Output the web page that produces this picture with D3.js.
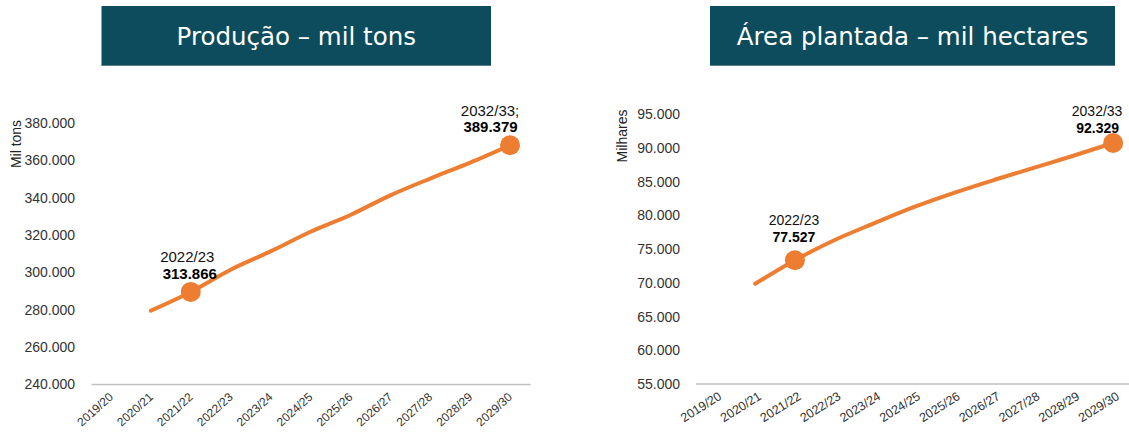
<!DOCTYPE html>
<html>
<head>
<meta charset="utf-8">
<script src="https://cdn.jsdelivr.net/npm/d3@7"></script>
<style>
  html, body { margin: 0; padding: 0; background: #fff; }
  svg { display: block; }
</style>
</head>
<body>
<svg id="chart" width="1129" height="438"></svg>
<script>
// ---- Data ----
const categories = ["2019/20","2020/21","2021/22","2022/23","2023/24","2024/25","2025/26","2026/27","2027/28","2028/29","2029/30"];

// Produção (mil tons) – first category has no value
const producao = [null, 279.3, 289.3, 301.2, 311.0, 321.5, 330.5, 341.0, 350.0, 358.5, 367.8];
const producaoTicks = [240, 260, 280, 300, 320, 340, 360, 380];

// Área plantada (mil hectares)
const area = [null, 69.8, 73.3, 76.3, 78.8, 81.2, 83.3, 85.2, 87.0, 88.8, 90.7];
const areaTicks = [55, 60, 65, 70, 75, 80, 85, 90, 95];

const titles = ["Produção – mil tons", "Área plantada – mil hectares"];
const yTitles = ["Mil tons", "Milhares"];

// highlighted points: [category index, line1, line2]
const producaoNotes = [[2, "2022/23", "313.866"], [10, "2032/33;", "389.379"]];
const areaNotes = [[2, "2022/23", "77.527"], [10, "2032/33", "92.329"]];

// ---- Drawing ----
const svg = d3.select("#chart");
const ORANGE = "#ED7D31";
const tickFmt = v => v.toFixed(3);

function panel(cfg) {
  const g = svg.append("g");

  // title banner
  g.append("rect")
    .attr("x", cfg.banner[0]).attr("y", 6)
    .attr("width", cfg.banner[1] - cfg.banner[0]).attr("height", 60)
    .attr("fill", "#0C4C5D");
  g.append("line")
    .attr("x1", cfg.banner[0]).attr("x2", cfg.banner[1])
    .attr("y1", 65.5).attr("y2", 65.5)
    .attr("stroke", "#5E7F88").attr("stroke-width", 1);
  g.append("text")
    .attr("x", (cfg.banner[0] + cfg.banner[1]) / 2).attr("y", 45)
    .attr("text-anchor", "middle")
    .attr("fill", "#fff")
    .attr("font-family", "'DejaVu Sans', Verdana, sans-serif")
    .attr("font-size", "24.5px")
    .text(cfg.title);

  const x = d3.scaleBand().domain(categories).range(cfg.xRange);
  const y = d3.scaleLinear().domain(cfg.yDomain).range(cfg.yRange);

  // y axis (labels only)
  const yAxis = d3.axisLeft(y).tickValues(cfg.ticks).tickSize(0).tickPadding(0)
    .tickFormat(tickFmt);
  const ya = g.append("g").attr("transform", `translate(${cfg.yLabelX},0)`).call(yAxis);
  ya.select(".domain").remove();
  ya.selectAll("text")
    .attr("font-family", "'Liberation Sans', Arial, sans-serif")
    .attr("font-size", "14px").attr("fill", "#333").attr("dy", "0.35em");

  // x axis
  const xAxis = d3.axisBottom(x).tickSize(0).tickPadding(0);
  const xa = g.append("g").attr("transform", `translate(0,${cfg.yRange[0]})`).call(xAxis);
  xa.select(".domain").attr("stroke", "#BFBFBF").attr("stroke-width", 1.5);
  xa.selectAll("text")
    .attr("font-family", "'Liberation Sans', Arial, sans-serif")
    .attr("font-size", cfg.xFont).attr("fill", "#333")
    .attr("text-anchor", "end")
    .attr("y", 0).attr("dy", 0)
    .attr("transform", `translate(${cfg.xLabelDx},${cfg.xLabelDy}) rotate(${cfg.xRot})`);

  // y title
  g.append("text")
    .attr("transform", `translate(${cfg.yTitlePos[0]},${cfg.yTitlePos[1]}) rotate(-90)`)
    .attr("text-anchor", "middle")
    .attr("font-family", "'Liberation Sans', Arial, sans-serif")
    .attr("font-size", "14px").attr("fill", "#222")
    .text(cfg.yTitle);

  const pts = cfg.values.map((v, i) => ({ c: categories[i], v })).filter(d => d.v != null);
  const cx = d => x(d.c) + x.bandwidth() / 2;
  const line = d3.line().x(cx).y(d => y(d.v)).curve(d3.curveMonotoneX);
  g.append("path").datum(pts)
    .attr("d", line).attr("fill", "none")
    .attr("stroke", ORANGE).attr("stroke-width", 4).attr("stroke-linecap", "round");

  cfg.notes.forEach((n, k) => {
    const d = { c: categories[n[0]], v: cfg.values[n[0]] };
    const px = cx(d), py = y(d.v);
    g.append("circle").attr("cx", px).attr("cy", py).attr("r", 10).attr("fill", ORANGE);
    const off = cfg.noteOff[k];
    g.append("text")
      .attr("x", px + off[0]).attr("y", py + off[1])
      .attr("text-anchor", "middle")
      .attr("font-family", "'Liberation Sans', Arial, sans-serif")
      .attr("font-size", cfg.noteFont).attr("fill", "#111")
      .text(n[1]);
    g.append("text")
      .attr("x", px + off[0] + off[3]).attr("y", py + off[2])
      .attr("text-anchor", "middle")
      .attr("font-family", "'Liberation Sans', Arial, sans-serif")
      .attr("font-size", cfg.noteFont).attr("font-weight", "bold").attr("fill", "#000")
      .text(n[2]);
  });
}

panel({
  title: titles[0], banner: [101.5, 491],
  xRange: [91, 530], yDomain: [240, 380], yRange: [384, 122.5],
  ticks: producaoTicks, yLabelX: 75, yTitle: yTitles[0], yTitlePos: [21, 144],
  values: producao, notes: producaoNotes,
  noteOff: [[-3.5, -30, -12.5, 2.5], [-20, -29, -13, 0.5]], noteFont: "15px",
  xFont: "12px", xRot: -42, xLabelDx: 3, xLabelDy: 14
});

panel({
  title: titles[1], banner: [710, 1115],
  xRange: [695.5, 1133], yDomain: [55, 95], yRange: [383.5, 114],
  ticks: areaTicks, yLabelX: 680, yTitle: yTitles[1], yTitlePos: [627, 136],
  values: area, notes: areaNotes,
  noteOff: [[-1, -35, -18, 0], [-16, -27, -10, 0.5]], noteFont: "14px",
  xFont: "12.5px", xRot: -32, xLabelDx: 7, xLabelDy: 15
});
</script>
</body>
</html>
